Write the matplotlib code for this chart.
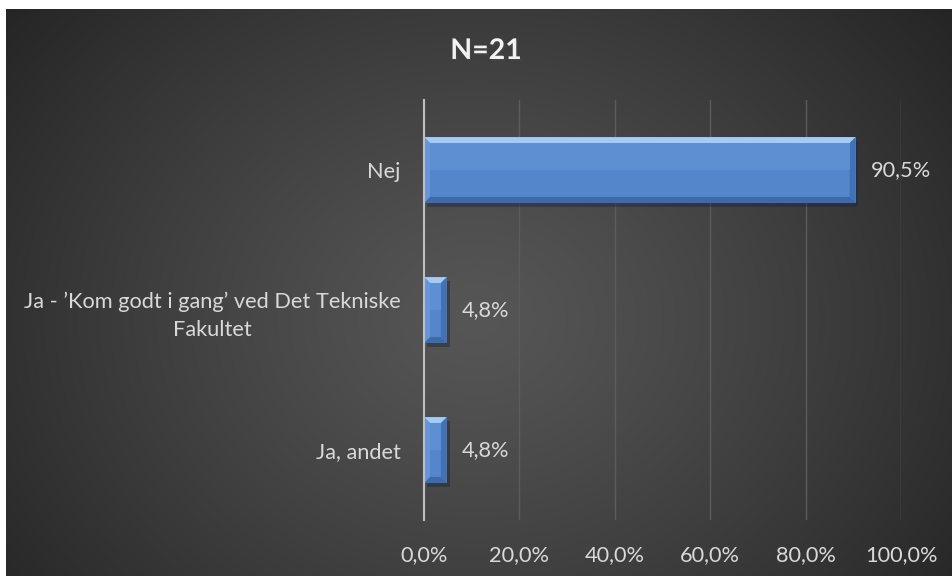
import numpy as np
import matplotlib.pyplot as plt
from matplotlib.patches import Polygon
import matplotlib.patheffects as pe

# data
categories = ["Nej", "Ja - \u2019Kom godt i gang\u2019 ved Det Tekniske\nFakultet", "Ja, andet"]
values = [0.905, 0.048, 0.048]
value_labels = ["90,5%", "4,8%", "4,8%"]
tick_vals = [0.0, 0.2, 0.4, 0.6, 0.8, 1.0]
tick_labels = ["0,0%", "20,0%", "40,0%", "60,0%", "80,0%", "100,0%"]
title = "N=21"

TEXT = "#d9d9d9"
BAR = "#5386cb"
FS = 15.7
plt.rcParams['font.family'] = ['Lato', 'DejaVu Sans']

W, H = 952, 576
fig = plt.figure(figsize=(W / 100, H / 100), dpi=100, facecolor="white")

# background card with radial gradient
bg = fig.add_axes([6 / W, 0, 1 - 6 / W, 1 - 9 / H])
bg.set_axis_off()
yy, xx = np.mgrid[0:567, 0:946]
r = np.sqrt(((xx - 470) / 620.0) ** 2 + ((yy - 310) / 520.0) ** 2)
r = np.clip(r, 0, 1)
c0, c1 = 0x56 / 255, 0x23 / 255
shade = c0 + (c1 - c0) * r ** 1.2
img = np.dstack([shade, shade, shade])
bg.imshow(img, aspect="auto", extent=[0, 1, 0, 1], origin="upper")
bg.set_xlim(0, 1)
bg.set_ylim(0, 1)

# plot area
x0, x1, y0, y1 = 424, 901, 100, 520
ax = fig.add_axes([x0 / W, 1 - y1 / H, (x1 - x0) / W, (y1 - y0) / H])
ax.set_facecolor("none")
ypos = np.arange(len(categories))
bh = 0.47
ax.barh(ypos, values, height=bh, color=BAR, zorder=3,
        path_effects=[pe.SimplePatchShadow(offset=(2, -3), alpha=0.45), pe.Normal()])
ax.set_xlim(0, 1)
ax.set_ylim(len(categories) - 0.5, -0.5)

# bevel edges
px_x = 1.0 / (x1 - x0)
px_y = len(categories) / (y1 - y0)
b = 6
for y, v in zip(ypos, values):
    top, bot = y - bh / 2, y + bh / 2
    bx = min(b * px_x, v / 2)
    by = b * px_y
    ax.add_patch(Polygon([(0, top), (v, top), (v - bx, top + by), (bx, top + by)],
                         closed=True, facecolor="#a6cbf3", edgecolor="none", zorder=4))
    ax.add_patch(Polygon([(0, bot), (v, bot), (v - bx, bot - by), (bx, bot - by)],
                         closed=True, facecolor="#3d6aa9", edgecolor="none", zorder=4))
    ax.add_patch(Polygon([(v, top), (v, bot), (v - bx, bot - by), (v - bx, top + by)],
                         closed=True, facecolor="#4272b3", edgecolor="none", zorder=4))
    ax.add_patch(Polygon([(0, top), (0, bot), (bx, bot - by), (bx, top + by)],
                         closed=True, facecolor="#6696d6", edgecolor="none", zorder=4))
    ax.add_patch(Polygon([(bx, top + by), (v - bx, top + by), (v - bx, y), (bx, y)],
                         closed=True, facecolor="#5c90d3", edgecolor="none", zorder=4))

for y, v, lab in zip(ypos, values, value_labels):
    ax.annotate(lab, (v, y), xytext=(11, 0), textcoords="offset points",
                va="center", ha="left", color=TEXT, fontsize=FS, zorder=5)

ax.set_xticks(tick_vals)
ax.set_xticklabels(tick_labels)
ax.set_yticks(ypos)
ax.set_yticklabels(categories, multialignment="center", linespacing=1.5)
ax.tick_params(axis="x", length=0, pad=18, colors=TEXT, labelsize=FS)
ax.tick_params(axis="y", length=0, pad=17, colors=TEXT, labelsize=FS)
ax.grid(axis="x", color="#5c5c5c", linewidth=1.0, zorder=0)
ax.set_axisbelow(True)
for s in ["top", "right", "bottom"]:
    ax.spines[s].set_visible(False)
ax.spines["left"].set_color("#bfbfbf")
ax.spines["left"].set_linewidth(1.5)
ax.spines["left"].set_zorder(5)

fig.text(486 / W, 1 - 51 / H, title, ha="center", va="center", color="#f2f2f2",
         fontsize=20.5, fontweight="bold",
         path_effects=[pe.withSimplePatchShadow(offset=(1, -1.5), alpha=0.6)])

fig.savefig("out.png", dpi=100, facecolor="white")
